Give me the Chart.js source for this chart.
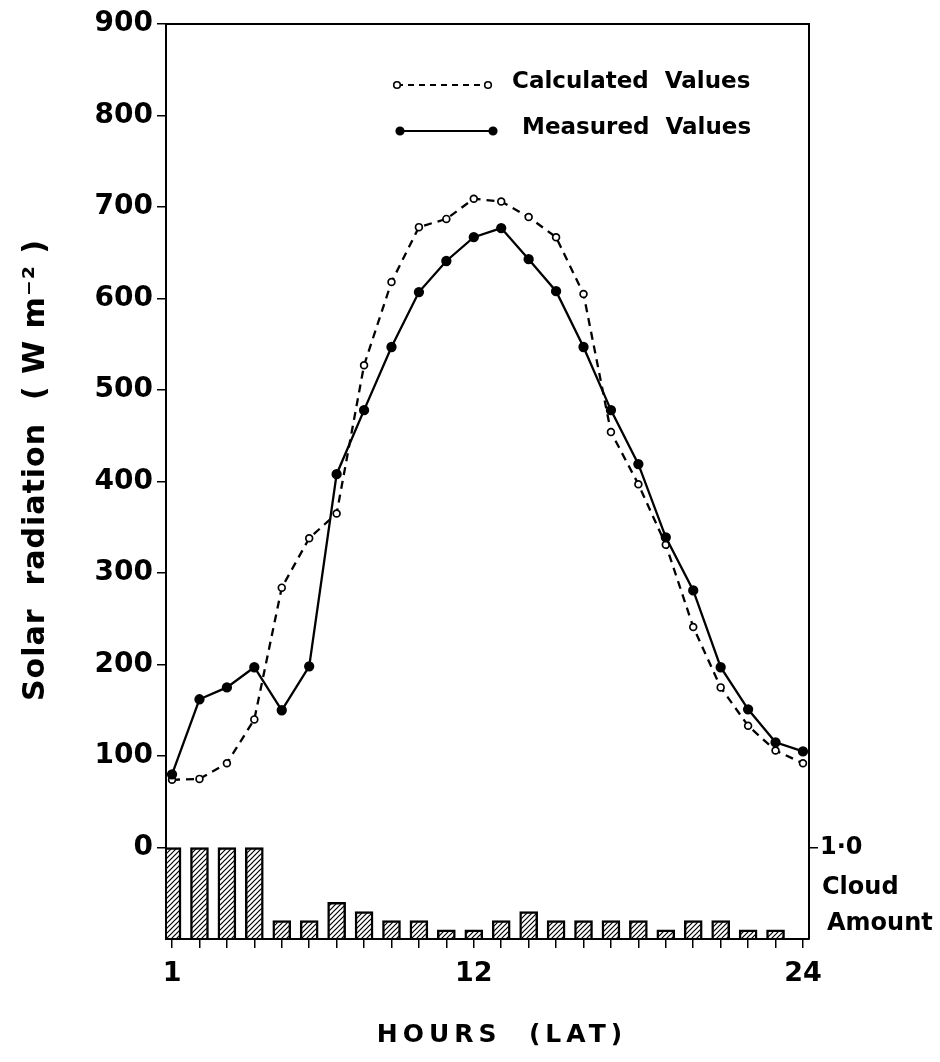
<!DOCTYPE html>
<html>
<head>
<meta charset="utf-8">
<script src="https://cdn.jsdelivr.net/npm/chart.js@4/dist/chart.umd.min.js"></script>
<style>
  html, body { margin: 0; padding: 0; background: #fff; }
  #wrap { width: 940px; height: 1062px; }
</style>
</head>
<body>
<div id="wrap"><canvas id="solar"></canvas></div>
<script>
const hours = [1,2,3,4,5,6,7,8,9,10,11,12,13,14,15,16,17,18,19,20,21,22,23,24];
const measured = [80,162,175,197,150,198,408,478,547,607,641,667,677,643,608,547,478,419,339,281,197,151,115,105];
const calculated = [74,75,92,140,284,338,365,527,618,678,687,709,706,689,667,605,454,397,331,241,175,133,106,92];
const cloudAmount = [1,1,1,1,0.2,0.2,0.4,0.3,0.2,0.2,0.1,0.1,0.2,0.3,0.2,0.2,0.2,0.2,0.1,0.2,0.2,0.1,0.1,null];
const yTicks = [0,100,200,300,400,500,600,700,800,900];
const xLabels = [1,12,24];

const FONT = "'DejaVu Sans', sans-serif";

// diagonal hatching for the cloud bars
function hatch() {
  const c = document.createElement('canvas');
  c.width = 5; c.height = 5;
  const g = c.getContext('2d');
  g.strokeStyle = '#000';
  g.lineWidth = 1.2;
  g.beginPath();
  g.moveTo(0, 5); g.lineTo(5, 0);
  g.moveTo(-1, 1); g.lineTo(1, -1);
  g.moveTo(4, 6); g.lineTo(6, 4);
  g.stroke();
  return g.createPattern(c, 'repeat');
}

const extras = {
  id: 'extras',
  afterDraw(chart) {
    const ctx = chart.ctx;
    const a = chart.chartArea;
    ctx.save();
    // frame top
    ctx.strokeStyle = '#000';
    ctx.lineWidth = 2;
    ctx.beginPath();
    ctx.moveTo(a.left, a.top);
    ctx.lineTo(a.right, a.top);
    ctx.stroke();

    // legend
    function sample(x1, x2, y, dashed) {
      ctx.lineWidth = 2.2;
      ctx.setLineDash(dashed ? [6, 5] : []);
      ctx.beginPath();
      ctx.moveTo(x1, y); ctx.lineTo(x2, y);
      ctx.stroke();
      ctx.setLineDash([]);
      [x1, x2].forEach(x => {
        ctx.beginPath();
        ctx.arc(x, y, dashed ? 3.3 : 3.8, 0, Math.PI * 2);
        ctx.fillStyle = dashed ? '#fff' : '#000';
        ctx.fill();
        ctx.lineWidth = 1.6;
        ctx.stroke();
      });
    }
    sample(397, 488, 85, true);
    sample(400, 493, 131, false);
    ctx.fillStyle = '#000';
    ctx.font = 'bold 23px ' + FONT;
    ctx.textBaseline = 'middle';
    ctx.textAlign = 'left';
    ctx.fillText('Calculated  Values', 512, 82);
    ctx.fillText('Measured  Values', 522, 128);

    // cloud label
    ctx.font = 'bold 24px ' + FONT;
    ctx.fillText('Cloud', 822, 888);
    ctx.fillText('Amount', 827, 924);

    // x title
    ctx.font = 'bold 25px ' + FONT;
    ctx.letterSpacing = '5px';
    ctx.textAlign = 'center';
    ctx.fillText('HOURS  (LAT)', 502, 1035);

    // y title
    ctx.translate(36, 470);
    ctx.rotate(-Math.PI / 2);
    ctx.font = 'bold 30px ' + FONT;
    ctx.letterSpacing = '1px';
    ctx.fillText('Solar  radiation  ( W m\u207B\u00B2 )', 0, 0);
    ctx.restore();
  }
};

const axisGrid = { display: true, offset: false, drawOnChartArea: false, drawTicks: true, tickLength: 9, color: '#000', lineWidth: 1.5 };
const axisBorder = { display: true, color: '#000', width: 2 };

new Chart(document.getElementById('solar'), {
  type: 'line',
  data: {
    datasets: [
      {
        label: 'Calculated Values',
        data: hours.map((h, i) => ({ x: h, y: calculated[i] })),
        borderColor: '#000',
        borderWidth: 2.3,
        borderDash: [8, 6],
        pointRadius: 3.4,
        pointBackgroundColor: '#fff',
        pointBorderColor: '#000',
        pointBorderWidth: 1.7,
        tension: 0,
        yAxisID: 'y',
        order: 1
      },
      {
        label: 'Measured Values',
        data: hours.map((h, i) => ({ x: h, y: measured[i] })),
        borderColor: '#000',
        borderWidth: 2.3,
        pointRadius: 4,
        pointBackgroundColor: '#000',
        pointBorderColor: '#000',
        tension: 0,
        yAxisID: 'y',
        order: 0
      },
      {
        type: 'bar',
        label: 'Cloud Amount',
        data: hours.map((h, i) => ({ x: h, y: cloudAmount[i] })),
        backgroundColor: hatch(),
        borderColor: '#000',
        borderWidth: 1.8,
        barThickness: 18,
        yAxisID: 'y2',
        order: 2
      }
    ]
  },
  options: {
    responsive: true,
    maintainAspectRatio: false,
    animation: false,
    layout: { padding: { top: 24, left: 0, right: 0, bottom: 0 } },
    plugins: {
      legend: { display: false },
      tooltip: { enabled: false }
    },
    scales: {
      x: {
        type: 'linear',
        min: 0.78,
        max: 24.22,
        offset: false,
        afterBuildTicks: s => { s.ticks = hours.map(v => ({ value: v })); },
        afterFit: s => { s.height = 123; },
        ticks: {
          autoSkip: false,
          maxRotation: 0,
          padding: 10,
          color: '#000',
          font: { family: FONT, size: 27, weight: 'bold' },
          callback: v => xLabels.includes(v) ? String(v) : ''
        },
        grid: axisGrid,
        border: axisBorder
      },
      y: {
        min: -100,
        max: 900,
        afterBuildTicks: s => { s.ticks = yTicks.map(v => ({ value: v })); },
        afterFit: s => { s.width = 166; },
        ticks: {
          padding: 4,
          color: '#000',
          font: { family: FONT, size: 28, weight: 'bold' }
        },
        grid: axisGrid,
        border: axisBorder
      },
      y2: {
        position: 'right',
        min: 0,
        max: 10,
        afterBuildTicks: s => { s.ticks = [{ value: 1 }]; },
        afterFit: s => { s.width = 131; },
        ticks: {
          padding: 2,
          color: '#000',
          font: { family: FONT, size: 24, weight: 'bold' },
          callback: () => '1\u00B70'
        },
        grid: axisGrid,
        border: axisBorder
      }
    }
  },
  plugins: [extras]
});
</script>
</body>
</html>
